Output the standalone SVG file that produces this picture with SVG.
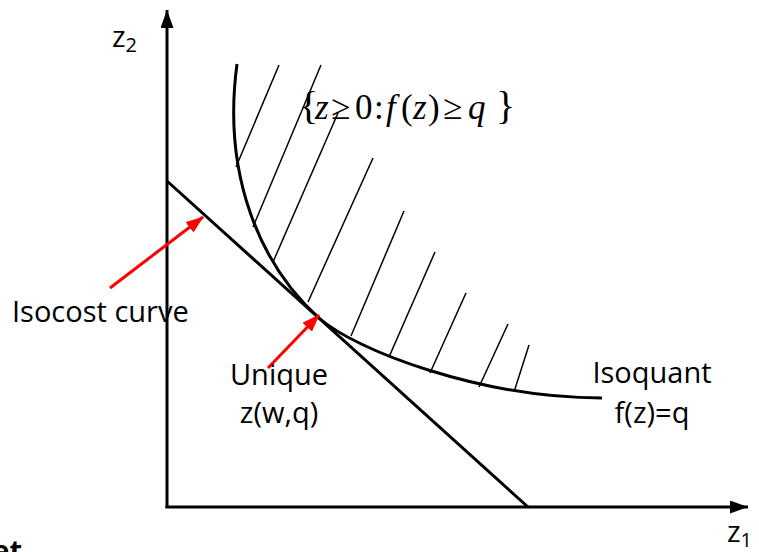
<svg xmlns="http://www.w3.org/2000/svg" width="759" height="552" viewBox="0 0 759 552">
<defs>
<marker id="ah" markerWidth="18" markerHeight="13" refX="18" refY="6.5" orient="auto" markerUnits="userSpaceOnUse"><path d="M0,0 L18,6.5 L0,13 Z" fill="#000"/></marker>
<marker id="rh" markerWidth="18" markerHeight="13" refX="17" refY="6.5" orient="auto" markerUnits="userSpaceOnUse"><path d="M0,0 L18,6.5 L0,13 Z" fill="#ff0000"/></marker>
</defs>
<style>
.ax{stroke:#000;stroke-width:3;fill:none}
.thick{stroke:#000;stroke-width:3;fill:none}
.hat{stroke:#000;stroke-width:1.5;fill:none}
.red{stroke:#ff0000;stroke-width:3;fill:none}
.lab{font-family:"Open Sans","Noto Sans",sans-serif;font-size:29px;fill:#000}
.math{font-family:"Liberation Serif","Times New Roman",serif;font-size:35px;fill:#000}
.it{font-style:italic}
</style>
<rect width="759" height="552" fill="#fff"/>
<g id="axes">
<line class="ax" x1="167" y1="508" x2="167" y2="10" marker-end="url(#ah)"/>
<line class="ax" x1="165.5" y1="507" x2="748" y2="507" marker-end="url(#ah)"/>
</g>
<g id="isocost">
<line class="thick" x1="167" y1="181" x2="528" y2="507"/>
</g>
<g id="isoquant">
<path class="thick" d="M237,64 C222,175 260,265 319,318 C355,350 480,398 602,398"/>
</g>
<g id="hatch">
<line class="hat" x1="279" y1="65" x2="236" y2="167"/>
<line class="hat" x1="321" y1="65" x2="253" y2="227"/>
<line class="hat" x1="338" y1="113" x2="273" y2="262"/>
<line class="hat" x1="373" y1="158" x2="308" y2="302"/>
<line class="hat" x1="404" y1="211" x2="351" y2="336"/>
<line class="hat" x1="435" y1="252" x2="389" y2="357"/>
<line class="hat" x1="466" y1="293" x2="430" y2="373"/>
<line class="hat" x1="508" y1="324" x2="479" y2="387"/>
<line class="hat" x1="529" y1="345" x2="514" y2="392"/>
</g>
<g id="connectors">
<line class="red" x1="110" y1="288" x2="203" y2="217" marker-end="url(#rh)"/>
<line class="red" x1="268" y1="368" x2="319" y2="315" marker-end="url(#rh)"/>
</g>
<g id="labels">
<text class="lab" x="112" y="47">z<tspan font-size="20" dy="5">2</tspan></text>
<text class="lab" x="727" y="542">z<tspan font-size="20" dy="5">1</tspan></text>
<text class="lab" x="12" y="322">Isocost curve</text>
<text class="lab" x="279" y="385" text-anchor="middle">Unique</text>
<text class="lab" x="279" y="423" text-anchor="middle">z(w,q)</text>
<text class="lab" x="652" y="383" text-anchor="middle">Isoquant</text>
<text class="lab" x="652" y="423" text-anchor="middle">f(z)=q</text>
<text class="lab" x="22" y="561" text-anchor="end" font-weight="bold">et</text>
</g>
<g id="set-label">
<text class="math" y="119"><tspan x="299" font-size="40">{</tspan><tspan x="315" class="it">z</tspan><tspan x="331">≥</tspan><tspan x="355">0</tspan><tspan x="374">:</tspan><tspan x="386" class="it">f</tspan><tspan x="401">(</tspan><tspan x="413" class="it">z</tspan><tspan x="428">)</tspan><tspan x="443">≥</tspan><tspan x="468" class="it">q</tspan><tspan x="496" font-size="40">}</tspan></text>
</g>
</svg>
